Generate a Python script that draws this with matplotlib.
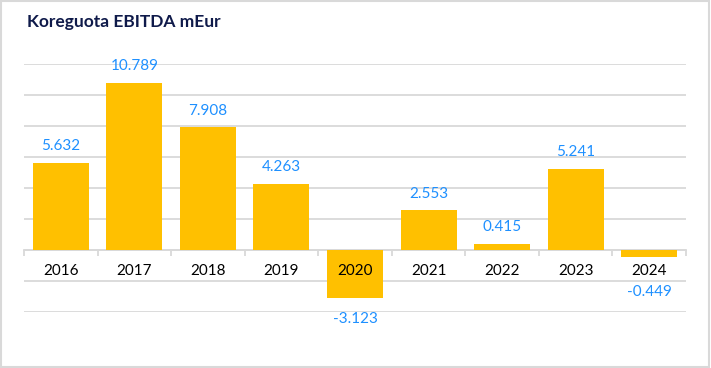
import matplotlib.pyplot as plt
import numpy as np
from matplotlib.patches import Rectangle

years = ["2016", "2017", "2018", "2019", "2020", "2021", "2022", "2023", "2024"]
ebitda = [5.632, 10.789, 7.908, 4.263, -3.123, 2.553, 0.415, 5.241, -0.449]

bar_color = "#FFC000"
label_color = "#1E90FF"
grid_color = "#D9D9D9"

plt.rcParams['font.family'] = ['Lato', 'DejaVu Sans']

fig = plt.figure(figsize=(7.11, 3.68), dpi=100)
ax = fig.add_axes([24 / 711, 1 - 312 / 368, 662 / 711, (312 - 64) / 368])

x = np.arange(len(years))
ax.bar(x, ebitda, width=0.76, color=bar_color, zorder=2)

ax.set_xlim(-0.5, len(years) - 0.5)
ax.set_ylim(-4, 12)
ax.set_yticks(np.arange(-4, 13, 2))
ax.yaxis.grid(True, color=grid_color, linewidth=1.3, zorder=0)
ax.tick_params(axis='y', length=0, labelleft=False)

for s in ["top", "right", "left"]:
    ax.spines[s].set_visible(False)
ax.spines["bottom"].set_position(("data", 0))
ax.spines["bottom"].set_color(grid_color)
ax.spines["bottom"].set_linewidth(1.3)
ax.spines["bottom"].set_zorder(1)

# category labels drawn as text so they sit above the bars
ax.set_xticks(x)
ax.set_xticklabels([])
ax.set_xticks(np.arange(-0.5, len(years), 1), minor=True)
ax.tick_params(axis='x', which='major', length=0)
ax.tick_params(axis='x', which='minor', length=4, color=grid_color, width=1.3)
for xi, yr in zip(x, years):
    ax.annotate(yr, (xi, 0), xytext=(0, -10), textcoords="offset points",
                ha="center", va="top", fontsize=11, color="black", zorder=4)

for xi, v in zip(x, ebitda):
    if v >= 0:
        ax.annotate(f"{v:.3f}", (xi, v), xytext=(0, 7), textcoords="offset points",
                    ha="center", va="bottom", fontsize=11, color=label_color, zorder=4)
    else:
        ax.annotate(f"{v:.3f}", (xi, min(v, -1.35)), xytext=(0, -10), textcoords="offset points",
                    ha="center", va="top", fontsize=11, color=label_color, zorder=4)

fig.text(27 / 711, 1 - 22 / 368, "Koreguota EBITDA mEur", fontsize=12.5, fontweight="bold",
         color="#0F1A4A", ha="left", va="center")

fig.patches.append(Rectangle((0.002, 0.003), 0.995, 0.993, transform=fig.transFigure,
                             fill=False, edgecolor="#D9D9D9", linewidth=1.5))

fig.savefig("out.png", dpi=100)
